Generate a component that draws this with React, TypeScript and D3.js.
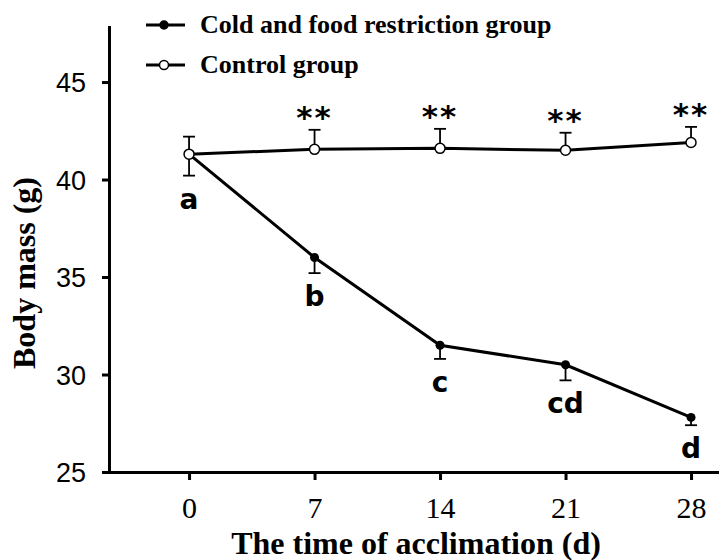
import React, { useEffect, useRef } from 'react';
import * as d3 from 'd3';

// days of acclimation
const days = [0, 7, 14, 21, 28];
// cold and food restriction group (filled circles)
const coldMean = [41.3, 36.0, 31.5, 30.5, 27.8];
const coldSE = [1.1, 0.8, 0.7, 0.8, 0.4];
const coldLetters = ['a', 'b', 'c', 'cd', 'd'];
// control group (open circles)
const ctrlMean = [41.3, 41.55, 41.6, 41.5, 41.9];
const ctrlSE = [0.9, 1.0, 1.0, 0.9, 0.8];
const ctrlSig = ['', '**', '**', '**', '**'];
const yTicks = [25, 30, 35, 40, 45];
const legendLabels = ['Cold and food restriction group', 'Control group'];

const W = 719;
const H = 560;
const serif = '"Liberation Serif", "Times New Roman", serif';
const sans = '"Liberation Sans", Arial, sans-serif';
const bold = '"DejaVu Sans", Tahoma, sans-serif';

export default function App() {
  const ref = useRef<SVGSVGElement>(null);

  useEffect(() => {
    const svg = d3.select(ref.current);
    svg.selectAll('*').remove();

    const x = d3.scaleLinear().domain([-4.8, 29.56]).range([103, 719]);
    const y = d3.scaleLinear().domain([25, 47.9]).range([472, 25.5]);

    // y axis
    const ya = svg.append('g').attr('transform', 'translate(109,0)')
      .call(d3.axisLeft(y).tickValues(yTicks).tickSize(7).tickPadding(16).tickSizeOuter(0));
    ya.select('.domain').attr('stroke-width', 3);
    ya.selectAll('.tick line').attr('stroke-width', 3);
    ya.selectAll('.tick text')
      .attr('font-family', sans).attr('font-size', 27).attr('fill', '#000')
      .attr('dy', '0.36em');

    // x axis
    const xa = svg.append('g').attr('transform', 'translate(0,472)')
      .call(d3.axisBottom(x).tickValues(days).tickSize(8).tickPadding(0).tickSizeOuter(0));
    xa.select('.domain').attr('stroke-width', 3);
    xa.selectAll('.tick line').attr('stroke-width', 3);
    xa.selectAll('.tick text')
      .attr('font-family', serif).attr('font-size', 30).attr('fill', '#000')
      .attr('y', 46).attr('dy', 0);

    // titles
    svg.append('text')
      .attr('x', 416).attr('y', 554)
      .attr('text-anchor', 'middle')
      .attr('font-family', serif).attr('font-weight', 'bold').attr('font-size', 32)
      .text('The time of acclimation (d)');
    svg.append('text')
      .attr('transform', 'translate(35,273) rotate(-90)')
      .attr('text-anchor', 'middle')
      .attr('font-family', serif).attr('font-weight', 'bold').attr('font-size', 32)
      .text('Body mass (g)');

    const line = d3.line<number>().x((d, i) => x(days[i])).y(d => y(d));

    // error bars: control upward, cold downward
    const capW = 6;
    days.forEach((d, i) => {
      const cx = x(d);
      const yTop = y(ctrlMean[i] + ctrlSE[i]);
      svg.append('line').attr('x1', cx).attr('x2', cx)
        .attr('y1', y(ctrlMean[i])).attr('y2', yTop).attr('stroke', '#000').attr('stroke-width', 1.8);
      svg.append('line').attr('x1', cx - capW).attr('x2', cx + capW)
        .attr('y1', yTop).attr('y2', yTop).attr('stroke', '#000').attr('stroke-width', 1.8);
      const yBot = y(coldMean[i] - coldSE[i]);
      svg.append('line').attr('x1', cx).attr('x2', cx)
        .attr('y1', y(coldMean[i])).attr('y2', yBot).attr('stroke', '#000').attr('stroke-width', 1.8);
      svg.append('line').attr('x1', cx - capW).attr('x2', cx + capW)
        .attr('y1', yBot).attr('y2', yBot).attr('stroke', '#000').attr('stroke-width', 1.8);
    });

    svg.append('path').attr('d', line(ctrlMean)).attr('fill', 'none')
      .attr('stroke', '#000').attr('stroke-width', 3);
    svg.append('path').attr('d', line(coldMean)).attr('fill', 'none')
      .attr('stroke', '#000').attr('stroke-width', 3);

    svg.selectAll('.cold').data(coldMean).enter().append('circle')
      .attr('cx', (d, i) => x(days[i])).attr('cy', d => y(d)).attr('r', 4.5)
      .attr('fill', '#000');
    svg.selectAll('.ctrl').data(ctrlMean).enter().append('circle')
      .attr('cx', (d, i) => x(days[i])).attr('cy', d => y(d)).attr('r', 5)
      .attr('fill', '#fff').attr('stroke', '#000').attr('stroke-width', 1.5);

    // significance letters under the cold group
    svg.selectAll('.letter').data(coldLetters).enter().append('text')
      .attr('x', (d, i) => x(days[i]))
      .attr('y', (d, i) => y(coldMean[i] - coldSE[i]) + 33)
      .attr('text-anchor', 'middle')
      .attr('font-family', bold).attr('font-weight', 'bold').attr('font-size', 28)
      .text(d => d);

    // asterisks above control group
    svg.selectAll('.sig').data(ctrlSig).enter().append('text')
      .attr('x', (d, i) => x(days[i]))
      .attr('y', (d, i) => y(ctrlMean[i] + ctrlSE[i]) - 2)
      .attr('text-anchor', 'middle')
      .attr('font-family', bold).attr('font-weight', 'bold').attr('font-size', 31)
      .attr('letter-spacing', 2)
      .text(d => d);

    // legend
    legendLabels.forEach((lab, i) => {
      const ly = 25 + i * 40;
      svg.append('line').attr('x1', 146).attr('x2', 185).attr('y1', ly).attr('y2', ly)
        .attr('stroke', '#000').attr('stroke-width', 3);
      svg.append('circle').attr('cx', 164).attr('cy', ly).attr('r', i === 0 ? 4 : 4.5)
        .attr('fill', i === 0 ? '#000' : '#fff').attr('stroke', '#000').attr('stroke-width', 1.5);
      svg.append('text').attr('x', 200).attr('y', ly + 8)
        .attr('font-family', serif).attr('font-weight', 'bold').attr('font-size', 26)
        .text(lab);
    });
  }, []);

  return (
    <svg ref={ref} width={W} height={H}
      style={{ position: 'absolute', left: 0, top: 0, display: 'block', background: '#fff' }} />
  );
}
